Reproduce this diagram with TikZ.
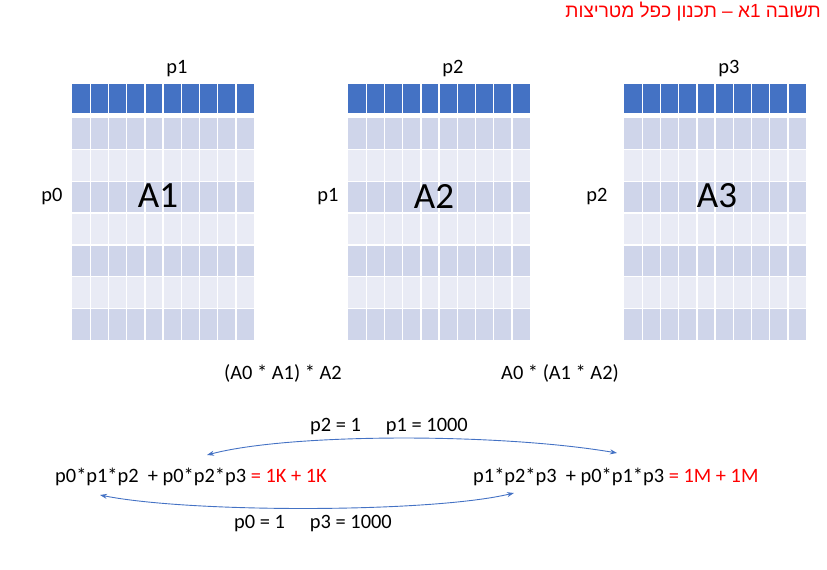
\documentclass[tikz,border=0pt]{standalone}
\usepackage{fontspec}
\usetikzlibrary{arrows.meta}
\setmainfont{Carlito}
\newfontfamily\hebfont[Script=Hebrew]{Liberation Sans}
\TeXXeTstate=1
\definecolor{hdr}{HTML}{4472C4}
\definecolor{rowd}{HTML}{CFD5EA}
\definecolor{rowl}{HTML}{E9EBF5}
\definecolor{myred}{HTML}{FF0000}
\definecolor{txt}{HTML}{000000}
\newcommand\matgrid[1]{%
  \fill[hdr] (#1,84) rectangle ++(182,29);
  \foreach \r in {0,2,4,6} \fill[rowd] (#1,118+\r*31.7) rectangle ++(182,31.7);
  \foreach \r in {1,3,5} \fill[rowl] (#1,118+\r*31.7) rectangle ++(182,31.7);
  \foreach \c in {1,...,9} {
    \draw[gridline] (#1+\c*18.2,84) -- ++(0,29);
    \draw[gridline] (#1+\c*18.2,118) -- ++(0,222);
  }
  \foreach \r in {1,...,6} \draw[gridline] (#1,118+\r*31.7) -- ++(182,0);
}
\begin{document}
\begin{tikzpicture}[x=1pt,y=-1pt,
  gridline/.style={white,line width=1.4pt},
  lbl/.style={font=\fontsize{20.4}{24}\selectfont,inner sep=0pt,text=txt},
  big/.style={font=\fontsize{37}{42}\selectfont,inner sep=0pt,text=txt},
  conn/.style={draw=hdr,line width=0.9pt,{Stealth[length=7pt,width=5pt]}-{Stealth[length=7pt,width=5pt]}}]
\useasboundingbox (0,0) rectangle (827,570);
\node[anchor=east,inner sep=0pt,text=myred,font=\hebfont\fontsize{19}{22}\selectfont] (title) at (821,12) {\beginR תשובה 1א – תכנון כפל מטריצות\endR};
\matgrid{72}
\matgrid{348}
\matgrid{624}
\node[lbl] (c1) at (177,69) {p1};
\node[lbl] (c2) at (453,69) {p2};
\node[lbl] (c3) at (729,69) {p3};
\node[lbl] (r1) at (52,197) {p0};
\node[lbl] (r2) at (328,197) {p1};
\node[lbl] (r3) at (597,197) {p2};
\node[big] (a1) at (158,196) {A1};
\node[big] (a2) at (434,196) {A2};
\node[big] (a3) at (717,196) {A3};
\node[lbl] (o1) at (283,373) {(A0 * A1) * A2};
\node[lbl] (o2) at (560,373) {A0 * (A1 * A2)};
\node[lbl,anchor=west] (f1) at (55,477) {p0*p1*p2 \ + p0*p2*p3 {\color{myred}= 1K + 1K}};
\node[lbl,anchor=west] (f2) at (473,477) {p1*p2*p3 \ + p0*p1*p3 {\color{myred}= 1M + 1M}};
\node[lbl] (l1) at (389,427) {p2 = 1 \quad p1 = 1000};
\node[lbl] (l2) at (313,524) {p0 = 1 \quad p3 = 1000};
\coordinate (t1) at (207,455);
\coordinate (t2) at (617,453);
\coordinate (b1) at (100,495);
\coordinate (b2) at (514,493);
\draw[conn] (t1) .. controls (290,433) and (500,433) .. (t2);
\draw[conn] (b1) .. controls (190,513) and (430,513) .. (b2);
\end{tikzpicture}
\end{document}
